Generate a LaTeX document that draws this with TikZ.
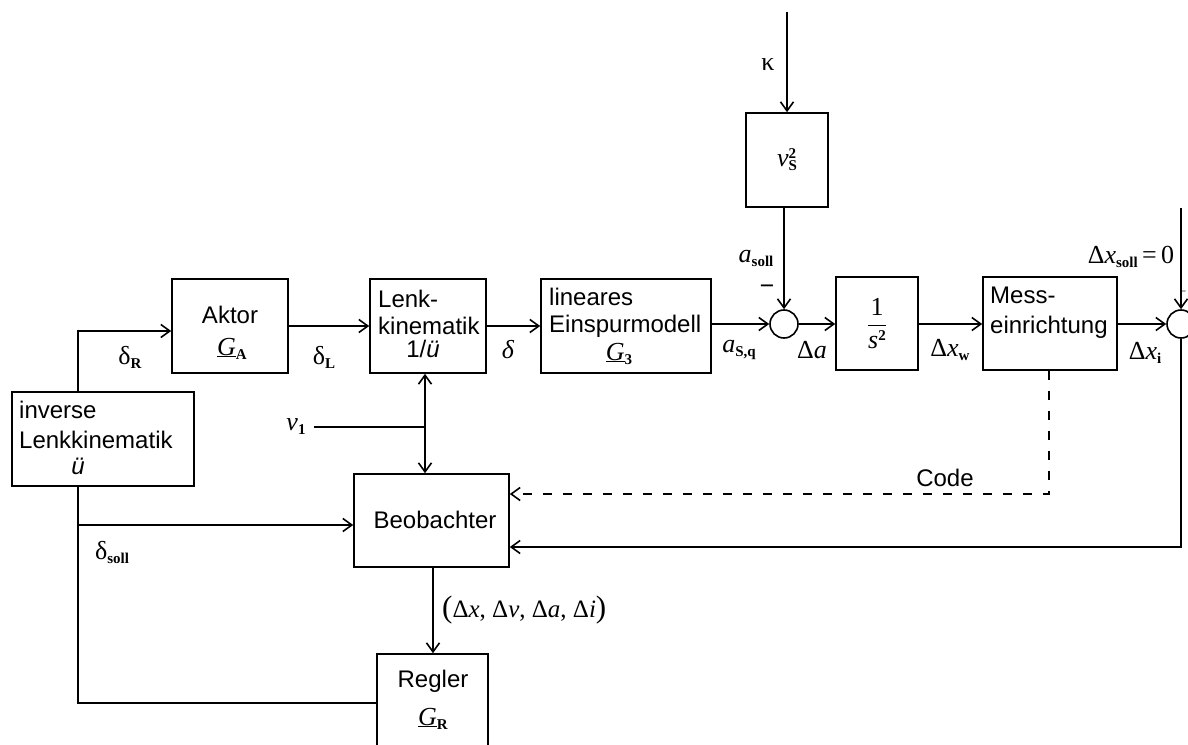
\documentclass[tikz,border=0pt]{standalone}
\usepackage{fontspec}
\setmainfont{Liberation Sans}
\newfontfamily\tms{Liberation Serif}
\usetikzlibrary{arrows.meta}
\newcommand\mv[1]{{\tms\itshape #1}}
\newcommand\mr[1]{{\tms #1}}
\newcommand\sbs[1]{\raisebox{-4pt}{\tms\bfseries\fontsize{15}{15}\selectfont #1}}
\newcommand\sps[1]{\raisebox{8pt}{\tms\bfseries\fontsize{15}{15}\selectfont #1}}
\begin{document}
\begin{tikzpicture}[x=1pt,y=-1pt,
  every node/.style={font=\fontsize{24}{28}\selectfont, inner sep=0pt},
  ml/.style={font=\fontsize{26}{30}\selectfont},
  blk/.style={draw, line width=1.6pt, inner sep=0pt},
  sum/.style={circle, draw, line width=1.6pt, minimum size=28pt, inner sep=0pt},
  line/.style={line width=1.6pt},
  arr/.style={line width=1.6pt, -{Straight Barb[length=9pt,width=13pt]}},
  darr/.style={line width=1.6pt, {Straight Barb[length=9pt,width=13pt]}-{Straight Barb[length=9pt,width=13pt]}},
  dsh/.style={line width=1.6pt, dash pattern=on 9pt off 11pt, -{Straight Barb[length=9pt,width=13pt]}}]
\useasboundingbox (0,0) rectangle (1188,744);
% blocks
\node[blk, minimum width=182pt, minimum height=94pt] (inv) at (103,439) {};
\node[blk, minimum width=116pt, minimum height=94pt] (akt) at (230,326) {};
\node[blk, minimum width=116pt, minimum height=94pt] (lenk) at (428,326) {};
\node[blk, minimum width=170pt, minimum height=94pt] (ein) at (626,326) {};
\node[sum] (c1) at (784,324) {};
\node[blk, ml, minimum width=82pt, minimum height=94pt] (vs) at (787,160) {\mv{v}\rlap{\sps{2}}\sbs{S}};
\node[blk, ml, minimum width=82pt, minimum height=93pt] (int) at (877,323.5) {$\displaystyle\frac{\mbox{\mr{1}}}{\mbox{\mv{s}\sps{2}}}$};
\node[blk, minimum width=134pt, minimum height=93pt] (mess) at (1050,323.5) {};
\node[sum] (c2) at (1181,324) {};
\node[blk, minimum width=155pt, minimum height=93pt] (beob) at (431.5,520.5) {};
\node[blk, minimum width=111pt, minimum height=94pt] (reg) at (432.5,701) {};
% block texts
\node[anchor=base west] (tinv1) at (19,418) {inverse};
\node[anchor=base west] (tinv2) at (19,448) {Lenkkinematik};
\node[anchor=base] (tinv3) at (78,474) {\itshape ü};
\node[anchor=base] (takt1) at (230,323) {Aktor};
\node[anchor=base, ml] (takt2) at (232,355) {\underline{\mv{G}}\sbs{A}};
\node[anchor=base west] (tlenk1) at (378,307) {Lenk-};
\node[anchor=base west] (tlenk2) at (378,334) {kinematik};
\node[anchor=base] (tlenk3) at (423,357) {1/\textit{ü}};
\node[anchor=base west] (tein1) at (549,305) {lineares};
\node[anchor=base west] (tein2) at (549,332) {Einspurmodell};
\node[anchor=base, ml] (tein3) at (619,360) {\underline{\mv{G}}\sbs{3}};
\node[anchor=base west] (tmess1) at (990,303) {Mess-};
\node[anchor=base west] (tmess2) at (990,333) {einrichtung};
\node[anchor=base] (tbeob) at (435,528) {Beobachter};
\node[anchor=base] (treg1) at (433,687) {Regler};
\node[anchor=base, ml] (treg2) at (433,725) {\underline{\mv{G}}\sbs{R}};
% coordinates
\coordinate (j1) at (78,331);
\coordinate (top) at (787,12);
\coordinate (top2) at (1181,208);
\coordinate (fb) at (1181,547);
\coordinate (dd) at (1049,494);
\coordinate (vx) at (425,427);
\coordinate (v1s) at (314,427);
\coordinate (s1) at (78,525);
\coordinate (s2) at (78,703);
\coordinate (bx) at (433,0);
% connectors
\draw[arr] (inv.north -| j1) -- (j1) -- (j1 -| akt.west);
\draw[arr] (akt.east) -- (lenk.west);
\draw[arr] (lenk.east) -- (ein.west);
\draw[arr] (ein.east |- c1) -- (c1.west);
\draw[arr] (c1.east) -- (int.west |- c1);
\draw[arr] (int.east |- c1) -- (mess.west |- c1);
\draw[arr] (mess.east |- c2) -- (c2.west);
\draw[arr] (top) -- (vs.north);
\draw[arr] (vs.south -| c1) -- (c1.north);
\draw[arr] (top2) -- (c2.north);
\draw[arr] (c2.south) -- (fb) -- (fb -| beob.east);
\draw[dsh] (mess.south -| dd) -- (dd) -- (dd -| beob.east);
\draw[darr] (lenk.south -| vx) -- (beob.north -| vx);
\draw[line] (v1s) -- (vx);
\draw[arr] (inv.south -| s1) -- (s1) -- (s1 -| beob.west);
\draw[line] (s1) -- (s2) -- (s2 -| reg.west);
\draw[arr] (beob.south -| bx) -- (reg.north -| bx);
% labels
\node[ml] (kap) at (768,65) {\mr{κ}};
\node[ml] (asoll) at (756,258) {\mv{a}\sbs{soll}};
\node[ml] (minus1) at (767,290) {\tms\bfseries −};
\node[ml] (asq) at (739,350) {\mv{a}\sbs{S,q}};
\node[ml] (da) at (812,350) {\mr{Δ}\mv{a}};
\node[ml] (dxw) at (950,350) {\mr{Δ}\mv{x}\sbs{w}};
\node[ml] (dxi) at (1145,353) {\mr{Δ}\mv{x}\sbs{i}};
\node[ml] (dxs) at (1131,257) {\mr{Δ}\mv{x}\sbs{soll}\mr{\,=\,0}};
\node (minus2) at (1183,293) {\fontsize{12}{12}\selectfont\mr{−}};
\node[ml] (dR) at (130,357) {\mr{δ}\sbs{R}};
\node[ml] (dL) at (324,357) {\mr{δ}\sbs{L}};
\node[ml] (d) at (508,350) {\mv{δ}};
\node[ml] (v1) at (296,427) {\mv{v}\sbs{1}};
\node[ml] (dsoll) at (112,552) {\mr{δ}\sbs{soll}};
\node (code) at (945,478) {Code};
\node[anchor=west, font=\fontsize{25}{30}\selectfont] (vec) at (442,610) {{\tms\fontsize{31}{31}\selectfont(}\mr{Δ}\mv{x}\mr{, Δ}\mv{v}\mr{, Δ}\mv{a}\mr{, Δ}\mv{i}{\tms\fontsize{31}{31}\selectfont)}};
\end{tikzpicture}
\end{document}
